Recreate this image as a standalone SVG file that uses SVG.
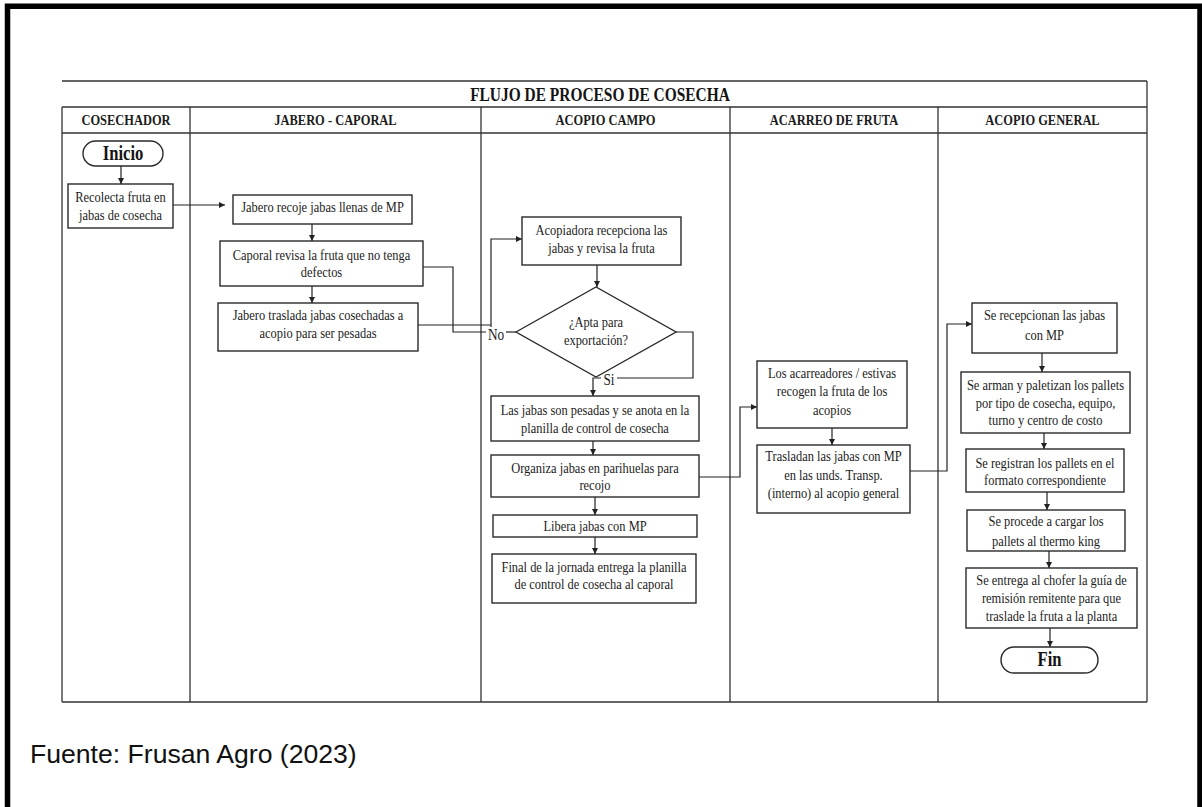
<svg xmlns="http://www.w3.org/2000/svg" width="1202" height="807" viewBox="0 0 1202 807">
<style>
.frame{fill:none;stroke:#000;stroke-width:5.5}
.ln{stroke:#333;stroke-width:1.3;fill:none}
.box{fill:#fff;stroke:#2a2a2a;stroke-width:1.4}
.c{stroke:#222;stroke-width:1.2;fill:none}
.ca{stroke:#222;stroke-width:1.2;fill:none;marker-end:url(#ah)}
.t{font-family:"Liberation Serif","Times New Roman",serif;font-size:15px;text-anchor:middle;fill:#1c1c1c}
.h{font-family:"Liberation Serif","Times New Roman",serif;font-size:15px;font-weight:bold;text-anchor:middle;fill:#1c1c1c}
.tt{font-family:"Liberation Serif","Times New Roman",serif;font-size:18.6px;font-weight:bold;text-anchor:middle;fill:#141414}
.b{font-family:"Liberation Serif","Times New Roman",serif;font-size:20px;font-weight:bold;text-anchor:middle;fill:#141414}
.lbl{font-family:"Liberation Serif","Times New Roman",serif;font-size:16px;text-anchor:middle;fill:#1c1c1c}
.src{font-family:"Liberation Sans",Arial,sans-serif;font-size:26.6px;fill:#111}
</style>
<defs>
<marker id="ah" markerUnits="userSpaceOnUse" markerWidth="7" markerHeight="6" refX="6" refY="3" orient="auto">
<path d="M0,0 L6,3 L0,6 z" fill="#222"/>
</marker>
</defs>
<rect x="0" y="0" width="1202" height="807" fill="#fff"/>
<path class="frame" d="M7.5,807 V6.3 H1200 V807"/>

<g id="table">
<path class="ln" d="M62,81 H1147 M62,107 H1147 M62,133 H1147 M62,702 H1147"/>
<path class="ln" d="M62,107 V702 M1147,81 V702 M190,107 V702 M481,107 V702 M730,107 V702 M938,107 V702"/>
<text class="tt" transform="translate(600 0) scale(0.83 1)" x="0" y="101">FLUJO DE PROCESO DE COSECHA</text>
<text class="h" transform="translate(126 0) scale(0.83 1)" x="0" y="125">COSECHADOR</text>
<text class="h" transform="translate(335.5 0) scale(0.83 1)" x="0" y="125">JABERO - CAPORAL</text>
<text class="h" transform="translate(605.5 0) scale(0.83 1)" x="0" y="125">ACOPIO CAMPO</text>
<text class="h" transform="translate(834 0) scale(0.83 1)" x="0" y="125">ACARREO DE FRUTA</text>
<text class="h" transform="translate(1042.5 0) scale(0.83 1)" x="0" y="125">ACOPIO GENERAL</text>
</g>

<g id="connectors">
<path class="ca" d="M121,166 V184"/>
<path class="ca" d="M173,205 H225"/>
<path class="ca" d="M312,224 V241"/>
<path class="ca" d="M312,286 V303"/>
<path class="c" d="M423,267 H453 V332 H486"/>
<path class="c" d="M418,325 H491"/>
<path class="ca" d="M491,327 V239 H522"/>
<path class="c" d="M516,332 H506"/>
<path class="ca" d="M597,265 V287"/>
<path class="c" d="M676,332 H693 V378 H617"/>
<path class="ca" d="M601,378 H593 V396"/>
<path class="ca" d="M593,441 V455"/>
<path class="ca" d="M595,497 V515"/>
<path class="ca" d="M595,537 V554"/>
<path class="ca" d="M699,477 H740 V407 H757"/>
<path class="ca" d="M832,428 V445"/>
<path class="ca" d="M910,471 H947 V324 H972"/>
<path class="ca" d="M1042,353 V372"/>
<path class="ca" d="M1044,433 V449"/>
<path class="ca" d="M1047,492 V510"/>
<path class="ca" d="M1049,551 V568"/>
<path class="ca" d="M1050,628 V647"/>
<text class="lbl" transform="translate(496 0) scale(0.83 1)" x="0" y="340">No</text>
<text class="lbl" transform="translate(609 0) scale(0.83 1)" x="0" y="385">Si</text>
</g>

<g id="inicio">
<rect class="box" x="83" y="141" width="80" height="25" rx="12.5"/>
<text class="b" transform="translate(123 0) scale(0.83 1)" x="0" y="160">Inicio</text>
</g>
<g id="recolecta">
<rect class="box" x="68" y="184" width="105" height="44"/>
<text class="t" transform="translate(120.5 0) scale(0.83 1)"><tspan x="0" y="202">Recolecta fruta en</tspan><tspan x="0" y="220">jabas de cosecha</tspan></text>
</g>
<g id="jabero-recoje">
<rect class="box" x="233" y="195" width="179" height="29"/>
<text class="t" transform="translate(322.5 0) scale(0.83 1)" x="0" y="212">Jabero recoje jabas llenas de MP</text>
</g>
<g id="caporal">
<rect class="box" x="220" y="241" width="203" height="45"/>
<text class="t" transform="translate(321.5 0) scale(0.83 1)"><tspan x="0" y="260">Caporal revisa la fruta que no tenga</tspan><tspan x="0" y="277">defectos</tspan></text>
</g>
<g id="jabero-traslada">
<rect class="box" x="218" y="303" width="200" height="48"/>
<text class="t" transform="translate(318 0) scale(0.83 1)"><tspan x="0" y="320">Jabero traslada jabas cosechadas a</tspan><tspan x="0" y="338">acopio para ser pesadas</tspan></text>
</g>
<g id="acopiadora">
<rect class="box" x="522" y="217" width="159" height="48"/>
<text class="t" transform="translate(601.5 0) scale(0.83 1)"><tspan x="0" y="235">Acopiadora recepciona las</tspan><tspan x="0" y="253">jabas y revisa la fruta</tspan></text>
</g>
<g id="apta">
<polygon class="box" points="516,332 596,287 676,332 596,377"/>
<text class="t" transform="translate(596 0) scale(0.83 1)"><tspan x="0" y="327">¿Apta para</tspan><tspan x="0" y="345">exportación?</tspan></text>
</g>
<g id="pesadas">
<rect class="box" x="491" y="396" width="208" height="45"/>
<text class="t" transform="translate(595 0) scale(0.83 1)"><tspan x="0" y="415">Las jabas son pesadas y se anota en la</tspan><tspan x="0" y="433">planilla de control de cosecha</tspan></text>
</g>
<g id="organiza">
<rect class="box" x="491" y="455" width="208" height="42"/>
<text class="t" transform="translate(595 0) scale(0.83 1)"><tspan x="0" y="473">Organiza jabas en parihuelas para</tspan><tspan x="0" y="490">recojo</tspan></text>
</g>
<g id="libera">
<rect class="box" x="493" y="515" width="204" height="22"/>
<text class="t" transform="translate(595 0) scale(0.83 1)" x="0" y="531.5">Libera jabas con MP</text>
</g>
<g id="final">
<rect class="box" x="492" y="554" width="204" height="49"/>
<text class="t" transform="translate(594 0) scale(0.83 1)"><tspan x="0" y="572">Final de la jornada entrega la planilla</tspan><tspan x="0" y="589">de control de cosecha al caporal</tspan></text>
</g>
<g id="acarreadores">
<rect class="box" x="757" y="361" width="150" height="67"/>
<text class="t" transform="translate(832 0) scale(0.83 1)"><tspan x="0" y="378">Los acarreadores / estivas</tspan><tspan x="0" y="396.5">recogen la fruta de los</tspan><tspan x="0" y="415">acopios</tspan></text>
</g>
<g id="trasladan">
<rect class="box" x="757" y="445" width="153" height="68"/>
<text class="t" transform="translate(833.5 0) scale(0.83 1)"><tspan x="0" y="461.5">Trasladan las jabas con MP</tspan><tspan x="0" y="480">en las unds. Transp.</tspan><tspan x="0" y="498">(interno) al acopio general</tspan></text>
</g>
<g id="recepcionan">
<rect class="box" x="972" y="303" width="145" height="50"/>
<text class="t" transform="translate(1044.5 0) scale(0.83 1)"><tspan x="0" y="320">Se recepcionan las jabas</tspan><tspan x="0" y="340">con MP</tspan></text>
</g>
<g id="arman">
<rect class="box" x="961" y="372" width="169" height="61"/>
<text class="t" transform="translate(1045.5 0) scale(0.83 1)"><tspan x="0" y="390">Se arman y paletizan los pallets</tspan><tspan x="0" y="408">por tipo de cosecha, equipo,</tspan><tspan x="0" y="425.5">turno y centro de costo</tspan></text>
</g>
<g id="registran">
<rect class="box" x="966" y="449" width="158" height="43"/>
<text class="t" transform="translate(1045 0) scale(0.83 1)"><tspan x="0" y="468">Se registran los pallets en el</tspan><tspan x="0" y="485">formato correspondiente</tspan></text>
</g>
<g id="procede">
<rect class="box" x="967" y="510" width="158" height="41"/>
<text class="t" transform="translate(1046 0) scale(0.83 1)"><tspan x="0" y="526.5">Se procede a cargar los</tspan><tspan x="0" y="546">pallets al thermo king</tspan></text>
</g>
<g id="entrega">
<rect class="box" x="966" y="568" width="171" height="60"/>
<text class="t" transform="translate(1051.5 0) scale(0.83 1)"><tspan x="0" y="585">Se entrega al chofer la guía de</tspan><tspan x="0" y="603">remisión remitente para que</tspan><tspan x="0" y="621.5">traslade la fruta a la planta</tspan></text>
</g>
<g id="fin">
<rect class="box" x="1001" y="647" width="97" height="26" rx="13"/>
<text class="b" transform="translate(1049.5 0) scale(0.83 1)" x="0" y="666">Fin</text>
</g>

<text class="src" x="30" y="763">Fuente: Frusan Agro (2023)</text>
</svg>
